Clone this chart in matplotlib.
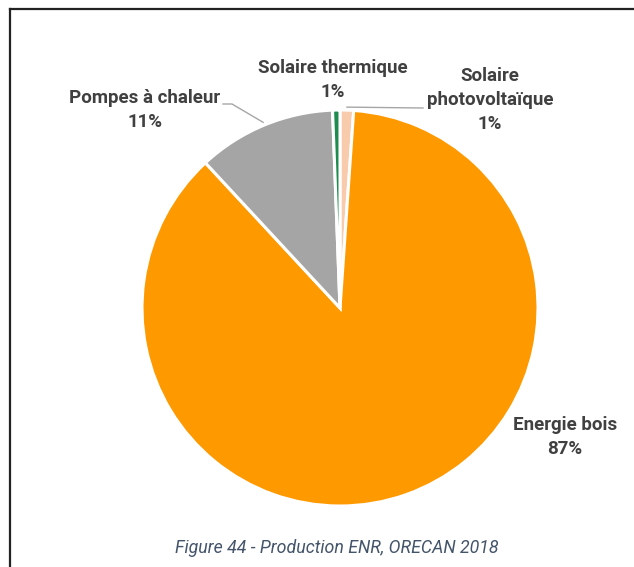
import numpy as np
import matplotlib
matplotlib.use("Agg")
import matplotlib.pyplot as plt
from matplotlib.lines import Line2D

# Production ENR (ORECAN 2018) - ordre horaire depuis midi
categories = ["Solaire\nphotovoltaïque", "Energie bois", "Pompes à chaleur", "Solaire thermique"]
values = [1.1, 87.0, 11.3, 0.6]
colors = ["#F8CBAD", "#FF9900", "#A5A5A5", "#1E8C4E"]

W, H = 634, 567
fig = plt.figure(figsize=(W / 100, H / 100), dpi=100)
ax = fig.add_axes([0, 0, 1, 1])

fonts = ["Liberation Sans Narrow", "Roboto", "DejaVu Sans"]
txt_color = "#404040"

cx, cy, r = 340, H - 308, 198
wedges, _ = ax.pie(values, colors=colors, startangle=90, counterclock=False,
                   center=(cx, cy), radius=r, frame=True,
                   wedgeprops=dict(edgecolor="white", linewidth=2.2))
ax.set_xlim(0, W)
ax.set_ylim(0, H)
ax.set_aspect("equal")
ax.axis("off")

total = sum(values)
pct = [f"{round(v / total * 100):.0f}%" for v in values]

# position des étiquettes (pixels, y vers le bas)
label_pos = [(490, 100), (565, 437), (145, 110), (333, 80)]
for i, (lab, (lx, ly)) in enumerate(zip(categories, label_pos)):
    ax.text(lx, H - ly, lab + "\n" + pct[i], ha="center", va="center",
            fontsize=13.5, fontweight="bold", color=txt_color,
            family=fonts, linespacing=1.42)


def edge_point(w, frac=0.5, extra=3):
    ang = np.deg2rad(w.theta1 + (w.theta2 - w.theta1) * frac)
    return cx + (r + extra) * np.cos(ang), cy + (r + extra) * np.sin(ang)


# lignes de rappel
lc = "#A6A6A6"
px, py = edge_point(wedges[0])
ax.plot([px, 423], [py, H - 108], color=lc, lw=1)
gx, gy = edge_point(wedges[2], 0.5)
ax.plot([gx, 232, 223], [gy, H - 104, H - 104], color=lc, lw=1)

# légende de figure
ax.text(337, H - 548, "Figure 44 - Production ENR, ORECAN 2018", ha="center",
        va="center", fontsize=12.8, style="italic", color="#44546A", family=fonts)

# cadre
fig.add_artist(Line2D([10 / W, 1], [1 - 9 / H, 1 - 9 / H], transform=fig.transFigure,
                      color="#222222", lw=1.6))
fig.add_artist(Line2D([10 / W, 10 / W], [0, 1 - 9 / H], transform=fig.transFigure,
                      color="#222222", lw=1.6))

fig.savefig("out.png", dpi=100)
